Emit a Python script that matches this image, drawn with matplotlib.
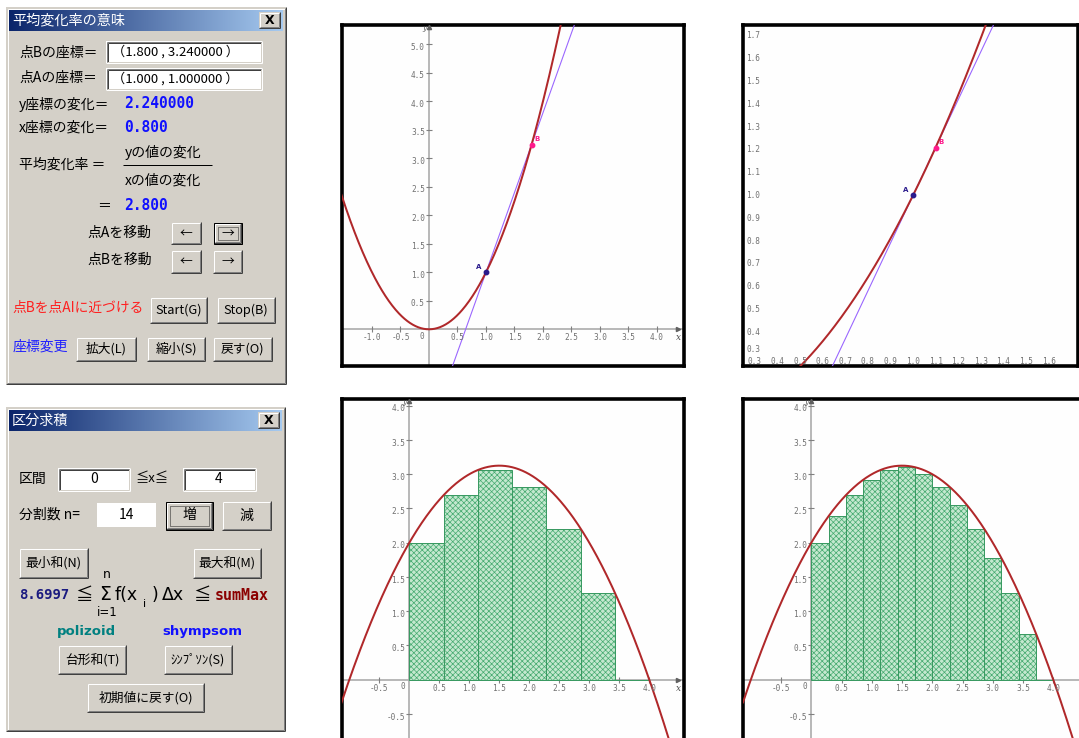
import numpy as np
import matplotlib
matplotlib.use('Agg')
import matplotlib.pyplot as plt
from matplotlib.patches import Rectangle
from matplotlib.transforms import blended_transform_factory

plt.rcParams['font.family'] = ['Noto Sans CJK JP', 'DejaVu Sans']
plt.rcParams['hatch.linewidth'] = 0.5

W, H = 1079, 738

# ------------------------------------------------------------------ data
# top charts : y = x^2 and secant through A, B
quad_top = [1.0, 0.0, 0.0]            # a, b, c of a x^2 + b x + c
point_A = (1.0, 1.0)
point_B_full = (1.8, 3.24)
point_B_zoom = (1.1, 1.21)
top1_xticks = [-1.0, -0.5, 0.5, 1.0, 1.5, 2.0, 2.5, 3.0, 3.5, 4.0]
top1_yticks = [0.5, 1.0, 1.5, 2.0, 2.5, 3.0, 3.5, 4.0, 4.5, 5.0]
top2_xticks = [0.3, 0.4, 0.5, 0.6, 0.7, 0.8, 0.9, 1.0, 1.1, 1.2, 1.3, 1.4, 1.5, 1.6]
top2_yticks = [0.3, 0.4, 0.5, 0.6, 0.7, 0.8, 0.9, 1.0, 1.1, 1.2, 1.3, 1.4, 1.5, 1.6, 1.7]

# bottom charts : f(x) = -0.5 x^2 + 1.5 x + 2 with lower sums
quad_bot = [-0.5, 1.5, 2.0]
n7_left = [0.0, 0.571, 1.143, 1.714, 2.286, 2.857, 3.429]
n7_height = [2.00, 2.69, 3.06, 2.82, 2.20, 1.27, 0.0]
n7_width = 0.571
n14_left = [0.0, 0.286, 0.571, 0.857, 1.143, 1.429, 1.714, 2.0, 2.286,
            2.571, 2.857, 3.143, 3.429, 3.714]
n14_height = [2.00, 2.39, 2.69, 2.92, 3.06, 3.10, 3.00, 2.82, 2.55,
              2.20, 1.78, 1.27, 0.67, 0.0]
n14_width = 0.286
n14_gap_left, n14_gap_width, n14_gap_bottom, n14_gap_top = 1.429, 0.16, 3.10, 3.125
bot_xticks = [-0.5, 0.5, 1.0, 1.5, 2.0, 2.5, 3.0, 3.5, 4.0]
bot_yticks = [-0.5, 0.5, 1.0, 1.5, 2.0, 2.5, 3.0, 3.5, 4.0]

# ------------------------------------------------------------------ figure
fig = plt.figure(figsize=(W / 100, H / 100), dpi=100)
fig.patch.set_facecolor('white')

ui = fig.add_axes([0, 0, 1, 1])
ui.set_xlim(0, W)
ui.set_ylim(H, 0)
ui.axis('off')
ui.set_autoscale_on(False)

FACE = '#D4D0C8'
PX = 0.72


def box(x0, y0, x1, y1, fc, ec='none', lw=0, z=2, **kw):
    ui.add_patch(Rectangle((x0, y0), x1 - x0, y1 - y0, facecolor=fc,
                           edgecolor=ec, linewidth=lw, zorder=z, **kw))


def seg(xs, ys, c, lw=1, z=3, ls='-'):
    ui.plot(xs, ys, color=c, lw=lw * PX, zorder=z, solid_capstyle='butt',
            linestyle=ls)


def bevel(x0, y0, x1, y1, tl_out, tl_in, br_out, br_in, z=3):
    seg([x0 + .5, x1 - .5], [y0 + .5, y0 + .5], tl_out, z=z)
    seg([x0 + .5, x0 + .5], [y0 + .5, y1 - .5], tl_out, z=z)
    seg([x0 + 1.5, x1 - 1.5], [y0 + 1.5, y0 + 1.5], tl_in, z=z)
    seg([x0 + 1.5, x0 + 1.5], [y0 + 1.5, y1 - 1.5], tl_in, z=z)
    seg([x0, x1], [y1 - .5, y1 - .5], br_out, z=z)
    seg([x1 - .5, x1 - .5], [y0, y1], br_out, z=z)
    seg([x0 + 1, x1 - 1], [y1 - 1.5, y1 - 1.5], br_in, z=z)
    seg([x1 - 1.5, x1 - 1.5], [y0 + 1, y1 - 1], br_in, z=z)


def button(x0, y0, x1, y1, text, focused=False, fs=9.2):
    box(x0, y0, x1, y1, FACE)
    if focused:
        box(x0 + .5, y0 + .5, x1 - .5, y1 - .5, 'none', ec='black', lw=PX, z=4)
        bevel(x0 + 1, y0 + 1, x1 - 1, y1 - 1, 'white', FACE, '#404040', '#808080')
        box(x0 + 4.5, y0 + 4.5, x1 - 4.5, y1 - 4.5, 'none', ec='#202020',
            lw=PX, z=4, linestyle=(0, (1, 1)))
    else:
        bevel(x0, y0, x1, y1, 'white', FACE, '#404040', '#808080')
    ui.text((x0 + x1) / 2, (y0 + y1) / 2, text, ha='center', va='center',
            fontsize=fs, color='black', zorder=5)


def sunken(x0, y0, x1, y1):
    box(x0, y0, x1, y1, 'white')
    bevel(x0, y0, x1, y1, '#808080', '#404040', 'white', FACE)


def window(x0, y0, x1, y1, title):
    box(x0, y0, x1, y1, FACE, z=1)
    bevel(x0, y0, x1, y1, FACE, 'white', '#404040', '#808080', z=2)
    grad = np.linspace(0, 1, 256)
    c0 = np.array([10, 36, 106]) / 255
    c1 = np.array([166, 202, 240]) / 255
    img = (c0[None, :] * (1 - grad[:, None]) + c1[None, :] * grad[:, None])[None, :, :]
    ui.imshow(img, extent=(x0 + 3, x1 - 3, y0 + 24, y0 + 3), aspect='auto',
              zorder=2, interpolation='bilinear')
    ui.text(x0 + 6, y0 + 13.5, title, ha='left', va='center', fontsize=10.2,
            color='white', zorder=5)
    bx0, by0 = x1 - 27, y0 + 5
    box(bx0, by0, bx0 + 21, by0 + 16, FACE, z=3)
    bevel(bx0, by0, bx0 + 21, by0 + 16, 'white', FACE, '#404040', '#808080', z=4)
    ui.text(bx0 + 10.5, by0 + 8, 'X', ha='center', va='center', fontsize=9,
            fontweight='bold', color='black', zorder=5, family='DejaVu Sans')


def label(x, y, s, color='black', fs=10, **kw):
    ui.text(x, y, s, ha=kw.pop('ha', 'left'), va='center', fontsize=fs,
            color=color, zorder=5, **kw)


MONO = dict(family='DejaVu Sans Mono', fontweight='bold')

# ---------------------------------------------------------- top dialog
window(6, 7, 286, 384, '平均変化率の意味')
label(19, 53, '点Bの座標＝')
sunken(106, 41, 262, 63)
label(112, 52, '（1.800 , 3.240000 ）', fs=9.5)
label(19, 78, '点Aの座標＝')
sunken(106, 68, 262, 90)
label(112, 79, '（1.000 , 1.000000 ）', fs=9.5)
label(19, 104, 'y座標の変化＝')
label(124, 104, '2.240000', color='#1010FF', fs=10.5, **MONO)
label(19, 128, 'x座標の変化＝')
label(124, 128, '0.800', color='#1010FF', fs=10.5, **MONO)
label(19, 165, '平均変化率 ＝')
label(125, 152, 'yの値の変化')
seg([123, 212], [164.5, 164.5], 'black')
label(125, 181, 'xの値の変化')
label(97, 205, '＝')
label(124, 205, '2.800', color='#1010FF', fs=10.5, **MONO)
label(87, 233, '点Aを移動')
button(171, 222, 201, 244, '←')
button(213, 222, 242, 244, '→', focused=True)
label(87, 260, '点Bを移動')
button(171, 250, 201, 273, '←')
button(213, 250, 242, 273, '→')
label(12, 308, '点Bを点AIに近づける', color='#FF2020', fs=9.9)
button(150, 297, 207, 323, 'Start(G)')
button(217, 297, 275, 323, 'Stop(B)')
label(13, 347, '座標変更', color='#2020FF')
button(76, 337, 136, 361, '拡大(L)')
button(147, 337, 205, 361, '縮小(S)')
button(213, 337, 272, 361, '戻す(O)')

# ---------------------------------------------------------- bottom dialog
window(6, 407, 285, 731, '区分求積')
label(19, 479, '区間')
sunken(58, 468, 130, 491)
label(94, 479, '0', ha='center')
label(136, 479, '≦x≦', fs=9.5)
sunken(183, 468, 256, 491)
label(219, 479, '4', ha='center')
label(19, 515, '分割数 n=')
box(97, 503, 156, 527, 'white')
label(126, 515, '14', ha='center')
button(165, 501, 213, 530, '増', focused=True, fs=10)
button(222, 501, 271, 530, '減', fs=10)
button(19, 548, 88, 578, '最小和(N)')
button(193, 548, 261, 578, '最大和(M)')
label(107, 575, 'n', ha='center', fs=9, family='DejaVu Sans')
label(19, 595, '8.6997', color='#1A1A80', fs=10, **MONO)
label(84, 595, '≦', ha='center', fs=12.5)
label(105, 594, 'Σ', ha='center', fs=13.5, family='DejaVu Sans')
label(115, 595, 'f(x', fs=12.5, family='DejaVu Sans')
label(145, 604, 'i', ha='center', fs=8, family='DejaVu Sans')
label(152, 595, ')', fs=12.5, family='DejaVu Sans')
label(162, 595, 'Δx', fs=12.5, family='DejaVu Sans')
label(202, 595, '≦', ha='center', fs=12.5)
label(215, 595, 'sumMax', color='#8B0000', fs=10.8, **MONO)
label(107, 613, 'i=1', ha='center', fs=8.5, family='DejaVu Sans')
label(57, 632, 'polizoid', color='#008080', fs=9.5, family='DejaVu Sans',
      fontweight='bold')
label(162, 632, 'shympsom', color='#1010FF', fs=9.5, family='DejaVu Sans',
      fontweight='bold')
button(58, 645, 126, 674, '台形和(T)')
button(164, 645, 232, 674, 'ｼﾝﾌﾟｿﾝ(S)')
button(87, 683, 204, 712, '初期値に戻す(O)')

# ---------------------------------------------------------- chart helpers
AXC = '#A8A8A8'
LBL = '#707070'
CURVE = '#B0282A'
SECANT = '#9A66FF'


def chart(px0, py0, px1, py1, xlim, ylim):
    ax = fig.add_axes([px0 / W, 1 - py1 / H, (px1 - px0) / W, (py1 - py0) / H])
    ax.set_xlim(*xlim)
    ax.set_ylim(*ylim)
    ax.set_facecolor('#FEFEFE')
    ax.set_xticks([])
    ax.set_yticks([])
    for s in ax.spines.values():
        s.set_linewidth(3.6 * PX)
        s.set_color('black')
    return ax


def axes_lines(ax, xticks, yticks, arrow_x=True):
    ax.axhline(0, color=AXC, lw=1.6 * PX, zorder=1)
    ax.axvline(0, color=AXC, lw=1.6 * PX, zorder=1)
    ax.plot(xticks, [0] * len(xticks), ls='none', marker='|', ms=4,
            mew=0.8, color='#808080', zorder=1)
    ax.plot([0] * len(yticks), yticks, ls='none', marker='_', ms=4,
            mew=0.8, color='#808080', zorder=1)
    for t in xticks:
        ax.annotate(f'{t:.1f}', (t, 0), xytext=(0, -6), textcoords='offset points',
                    ha='center', va='center', fontsize=5.6, color=LBL,
                    family='DejaVu Sans Mono', zorder=6)
    for t in yticks:
        ax.annotate(f'{t:.1f}', (0, t), xytext=(-3, -2.2), textcoords='offset points',
                    ha='right', va='center', fontsize=5.6, color=LBL,
                    family='DejaVu Sans Mono', zorder=6)
    ax.annotate('0', (0, 0), xytext=(-5, -5), textcoords='offset points',
                ha='center', va='center', fontsize=5.6, color=LBL,
                family='DejaVu Sans Mono', zorder=6)
    tb = blended_transform_factory(ax.transData, ax.transAxes)
    ax.plot([0], [0.993], marker='^', ms=3, color='#606060', transform=tb,
            clip_on=False, zorder=6)
    ax.annotate('y', (0, 1.0), xycoords=tb, xytext=(-2, 0.5),
                textcoords='offset points', ha='right', va='top', fontsize=5,
                style='italic', color='#505050', family='DejaVu Serif', zorder=6)
    if arrow_x:
        tr = blended_transform_factory(ax.transAxes, ax.transData)
        ax.plot([0.985], [0], marker='>', ms=3, color='#606060', transform=tr,
                zorder=6)
        ax.annotate('x', (0.985, 0), xycoords=tr, xytext=(0, -6),
                    textcoords='offset points', ha='center', va='center',
                    fontsize=6.5, style='italic', color='#505050',
                    family='DejaVu Serif', zorder=6)


def draw_curve(ax, coef):
    x0, x1 = ax.get_xlim()
    xs = np.linspace(x0, x1, 500)
    ax.plot(xs, np.polyval(coef, xs), color=CURVE, lw=2.0 * PX, zorder=4)


def draw_secant(ax, A, B):
    x0, x1 = ax.get_xlim()
    slope = (B[1] - A[1]) / (B[0] - A[0])
    xs = np.array([x0, x1])
    ax.plot(xs, A[1] + slope * (xs - A[0]), color=SECANT, lw=1.1 * PX, zorder=3)


def draw_points(ax, A, B):
    ax.plot(*A, marker='o', ms=3.2, color='#2A1A8C', zorder=5)
    ax.plot(*B, marker='o', ms=3.2, color='#FF1A8C', zorder=5)
    ax.annotate('A', A, xytext=(-5, 4), textcoords='offset points', fontsize=5,
                color='#2A1A8C', ha='center', va='center', fontweight='bold',
                family='DejaVu Sans')
    ax.annotate('B', B, xytext=(4, 4), textcoords='offset points', fontsize=5,
                color='#FF1A8C', ha='center', va='center', fontweight='bold',
                family='DejaVu Sans')


def draw_bars(ax, left, height, width):
    ax.bar(left, height, width=width, align='edge', facecolor='#C4E8CF',
           edgecolor='#45AA70', hatch='xxxxxx', linewidth=0, zorder=2)
    ax.bar(left, height, width=width, align='edge', fill=False,
           edgecolor='#3A9A62', linewidth=1.0 * PX, zorder=3)


# ---------------------------------------------------------- chart 1
ax1 = chart(341.5, 24.5, 683.5, 366, (-1.535, 4.465), (-0.644, 5.347))
axes_lines(ax1, top1_xticks, top1_yticks)
draw_curve(ax1, quad_top)
draw_secant(ax1, point_A, point_B_full)
draw_points(ax1, point_A, point_B_full)

# ---------------------------------------------------------- chart 2
ax2 = chart(743, 24.5, 1077.5, 366, (0.248, 1.728), (0.252, 1.750))
draw_curve(ax2, quad_top)
draw_secant(ax2, point_A, point_B_zoom)
draw_points(ax2, point_A, point_B_zoom)
tb2 = blended_transform_factory(ax2.transData, ax2.transAxes)
for t in top2_xticks:
    ax2.text(t, 0.012, f'{t:.1f}', transform=tb2, ha='center', va='center',
             fontsize=5.6, color=LBL, family='DejaVu Sans Mono', zorder=6)
tl2 = blended_transform_factory(ax2.transAxes, ax2.transData)
for t in top2_yticks:
    # lowest label lifted slightly so it does not sit on the x labels
    ax2.annotate(f'{t:.1f}', (0.03, t), xycoords=tl2,
                 xytext=(0, 4 if t == top2_yticks[0] else 0),
                 textcoords='offset points', ha='center', va='center',
                 fontsize=5.6, color=LBL, family='DejaVu Sans Mono', zorder=6)

# ---------------------------------------------------------- chart 3
ax3 = chart(341.5, 399, 683.5, 745, (-1.13, 4.57), (-0.953, 4.098))
axes_lines(ax3, bot_xticks, bot_yticks)
draw_bars(ax3, n7_left, n7_height, n7_width)
draw_curve(ax3, quad_bot)

# ---------------------------------------------------------- chart 4
ax4 = chart(743, 399, 1085, 745, (-1.129, 4.524), (-0.953, 4.098))
axes_lines(ax4, bot_xticks, bot_yticks, arrow_x=False)
draw_bars(ax4, n14_left, n14_height, n14_width)
ax4.bar([n14_gap_left], [n14_gap_top - n14_gap_bottom], bottom=n14_gap_bottom,
        width=n14_gap_width, align='edge', color='#E8A0A8', zorder=3)
draw_curve(ax4, quad_bot)

fig.savefig('out.png', dpi=100)
